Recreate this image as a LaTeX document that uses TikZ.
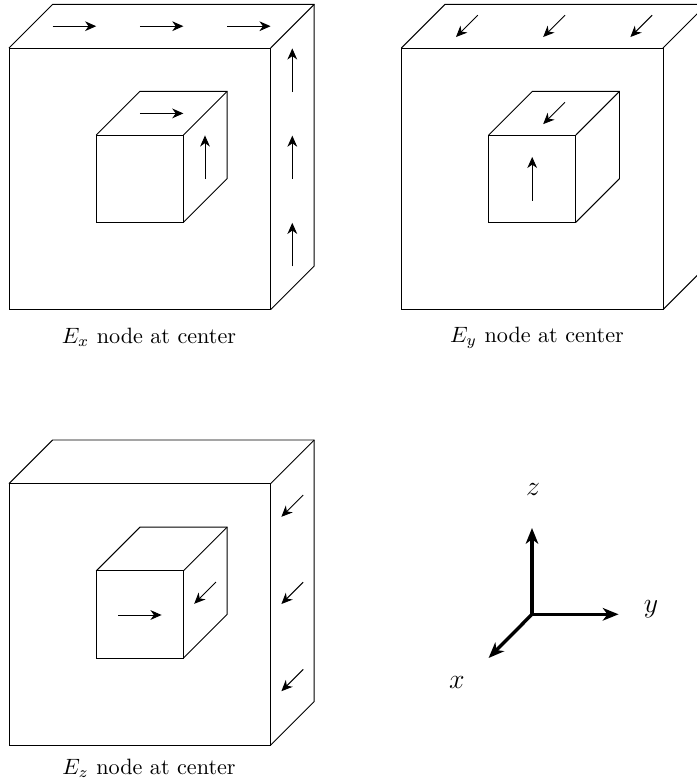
\documentclass[tikz,border=0pt]{standalone}
\usetikzlibrary{arrows.meta}
\tikzset{
  px/.style={x=0.4304pt,y=-0.4304pt},
  edge/.style={line width=0.42pt,line join=miter},
  vec/.style={line width=0.42pt,-{Stealth[length=4.8pt,width=4.2pt,inset=1.5pt]}},
  axis/.style={line width=1.45pt,-{Stealth[length=6.8pt,width=5.4pt,inset=2pt]}},
  captext/.style={inner sep=0pt,anchor=center,scale=0.955},
  lab/.style={inner sep=0pt,anchor=center}
}
\newcommand{\cubeat}[3]{%
  \draw[edge] (#1,#2) rectangle ++(#3,#3);
  \draw[edge] (#1,#2) -- ++(43.6,-43.6) -- ++(#3,0) -- ++(0,#3) -- ++(-43.6,43.6);
  \draw[edge] (#1+#3,#2) -- ++(43.6,-43.6);
}
\begin{document}
\begin{tikzpicture}[px]
\useasboundingbox (0,0) rectangle (697,784);
\clip (0,0) rectangle (697,784);
% Ex panel
\cubeat{9}{48}{261.6}
\cubeat{96.3}{135}{87.2}
\foreach \d in {0,87.2,174.4}{
  \draw[vec] (52.6+\d,26.2) -- ++(43.6,0);
  \draw[vec] (292.3,92+\d) -- ++(0,-43.6);
}
\draw[vec] (139.8,113.4) -- ++(43.6,0);
\draw[vec] (205,179) -- ++(0,-43.6);
\node[captext] (capx) at (149,337.5) {$E_x$ node at center};
% Ey panel
\cubeat{401.4}{48}{261.6}
\cubeat{488.7}{135}{87.2}
\foreach \d in {0,87.2,174.4}{
  \draw[vec] (477.8+\d,15.2) -- ++(-21.8,21.8);
}
\draw[vec] (565,102.3) -- ++(-21.8,21.8);
\draw[vec] (532.2,200.5) -- ++(0,-43.6);
\node[captext] (capy) at (537,337.5) {$E_y$ node at center};
% Ez panel
\cubeat{9}{483.6}{261.6}
\cubeat{96.3}{570.8}{87.2}
\foreach \d in {0,87.2,174.4}{
  \draw[vec] (303.2,495+\d) -- ++(-21.8,21.8);
}
\draw[vec] (216,582) -- ++(-21.8,21.8);
\draw[vec] (118,615) -- ++(43.6,0);
\node[captext] (capz) at (149,768) {$E_z$ node at center};
% Axes
\coordinate (o) at (532,614.3);
\coordinate (zt) at (532,528);
\coordinate (yt) at (618.6,614.3);
\coordinate (xt) at (488.6,658);
\draw[axis] (o) -- (zt);
\draw[axis] (o) -- (yt);
\draw[axis] (o) -- (xt);
\node[lab,font=\large] (zl) at (533,489) {$z$};
\node[lab,font=\large] (yl) at (651,609) {$y$};
\node[lab,font=\large] (xl) at (457,682) {$x$};
\end{tikzpicture}
\end{document}
